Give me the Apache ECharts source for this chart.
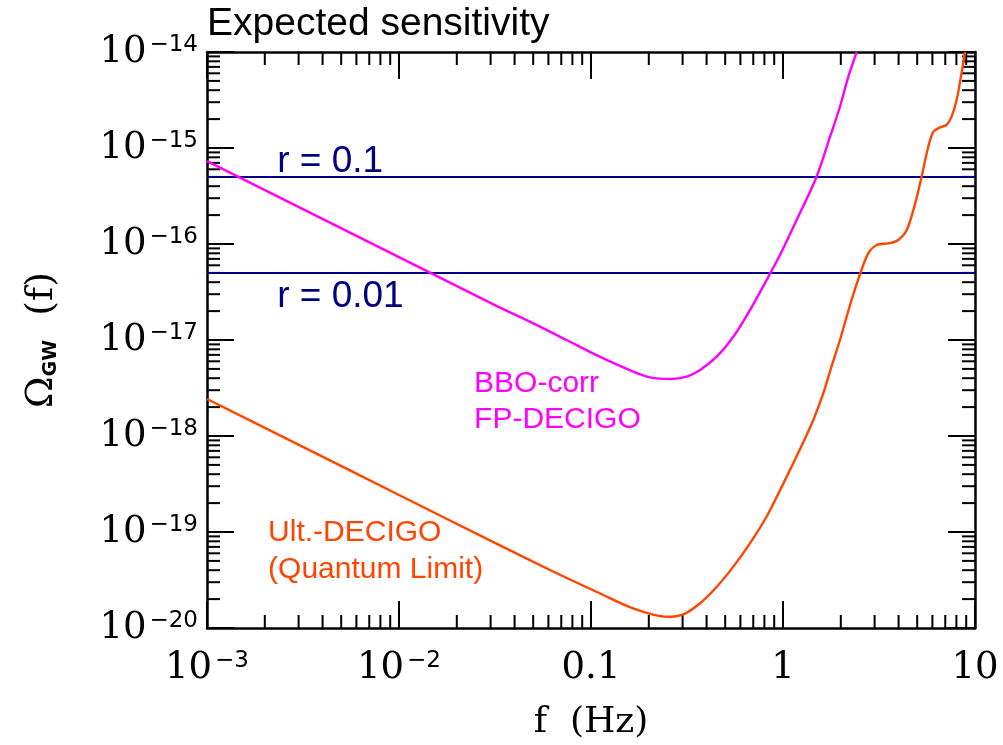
<!DOCTYPE html>
<html lang="en">
<head>
<meta charset="UTF-8">
<title>Expected sensitivity</title>
<script src="https://cdn.jsdelivr.net/npm/echarts@6/dist/echarts.min.js"></script>
<style>html, body { margin: 0; padding: 0; background: #fff; }</style>
</head>
<body>
<div id="main" style="width: 1003px; height: 745px;"></div>
<script>
// tick labels, base and exponent, one per decade
var xTickLabels = [['10', '−3'], ['10', '−2'], ['0.1', ''], ['1', ''], ['10', '']];
var yTickLabels = [['10', '−20'], ['10', '−19'], ['10', '−18'], ['10', '−17'], ['10', '−16'], ['10', '−15'], ['10', '−14']];

// BBO-corr / FP-DECIGO
var bboFreq = [0.001, 0.00316, 0.01, 0.0316, 0.0501, 0.0746, 0.111, 0.166, 0.203, 0.258, 0.315, 0.37, 0.452,
    0.551, 0.673, 0.822, 0.964, 1.178, 1.496, 1.758, 1.98, 2.19, 2.42];
var bboOmega = [7.3e-16, 2.31e-16, 7.3e-17, 2.31e-17, 1.49e-17, 1.0e-17, 6.7e-18, 4.68e-18, 4.08e-18, 3.93e-18, 4.15e-18, 4.86e-18, 6.7e-18,
    1.08e-17, 2.05e-17, 4.22e-17, 7.67e-17, 1.78e-16, 5.02e-16, 1.31e-15, 2.69e-15, 5.53e-15, 1.0e-14];

// Ult.-DECIGO (quantum limit)
var udFreq = [0.001, 0.00316, 0.01, 0.0316, 0.0631, 0.111, 0.166, 0.248, 0.303, 0.37, 0.452, 0.551, 0.673, 0.822,
    1.005, 1.227, 1.439, 1.622, 1.8, 1.98, 2.275, 2.564, 2.78, 3.08, 3.61, 3.98, 4.41, 4.88, 5.27, 5.71, 6.07, 6.58,
    7.11, 7.55, 8.02, 8.51, 8.87];
var udOmega = [2.43e-18, 7.7e-19, 2.43e-19, 7.7e-20, 3.9e-20, 2.3e-20, 1.6e-20, 1.31e-20, 1.39e-20, 1.81e-20, 2.69e-20, 4.36e-20, 7.62e-20, 1.45e-19,
    3.21e-19, 7.33e-19, 1.47e-18, 2.79e-18, 5.5e-18, 1.0e-17, 2.61e-17, 5.36e-17, 8.0e-17, 9.77e-17, 1.02e-16, 1.10e-16, 1.40e-16, 2.65e-16, 5.02e-16, 1.03e-15, 1.48e-15, 1.64e-15,
    1.74e-15, 2.12e-15, 3.16e-15, 6.0e-15, 1.0e-14];

// tensor-to-scalar ratio levels
var rNames = ['r = 0.1', 'r = 0.01'];
var rLevels = [5e-16, 5e-17];

// text notes anchored at (f, omega)
var noteText = ['r = 0.1', 'r = 0.01', 'BBO-corr', 'FP-DECIGO', 'Ult.-DECIGO', '(Quantum Limit)'];
var noteFreq = [0.00232, 0.00232, 0.0246, 0.0246, 0.00208, 0.00208];
var noteOmega = [7.15e-16, 2.8e-17, 3.48e-18, 1.47e-18, 9.77e-20, 4.02e-20];
var noteColor = ['#000080', '#000080', '#ff00ff', '#ff00ff', '#ff4500', '#ff4500'];
var noteSize = [37, 37, 30, 30, 30, 30];

var xMin = 1e-3, xMax = 10, yMin = 1e-20, yMax = 1e-14;

function tickText(labels, first) {
    return function (v) {
        var l = labels[Math.round(Math.log10(v)) - first];
        if (!l) return '';
        return l[1] ? '{b|' + l[0] + '}{s|' + l[1] + '}' : '{b|' + l[0] + '}';
    };
}

var tickRich = {
    b: { fontFamily: 'DejaVu Serif', fontSize: 37, color: '#000' },
    s: { fontFamily: 'DejaVu Sans', fontSize: 23, color: '#000', verticalAlign: 'top', padding: [0, 0, 0, 3] }
};

// minor ticks 2..9 in each decade
var xMinor = [], yMinor = [];
for (var e = -3; e < 1; e++) for (var m = 2; m < 10; m++) xMinor.push([m * Math.pow(10, e), yMin]);
for (var e = -20; e < -14; e++) for (var m = 2; m < 10; m++) yMinor.push([xMin, m * Math.pow(10, e)]);

function tickLine(x1, y1, x2, y2) {
    return { type: 'line', shape: { x1: x1, y1: y1, x2: x2, y2: y2 }, style: { stroke: '#000', lineWidth: 2 } };
}

function axisBase(pos, showLabel, labels, first) {
    return {
        type: 'log', logBase: 10, position: pos,
        axisLine: { lineStyle: { color: '#000', width: 2.5 } },
        axisTick: { inside: true, length: 27, lineStyle: { color: '#000', width: 2 } },
        splitLine: { show: false },
        axisLabel: showLabel ? { formatter: tickText(labels, first), rich: tickRich } : { show: false }
    };
}

var xBottom = axisBase('bottom', true, xTickLabels, -3);
xBottom.min = xMin; xBottom.max = xMax;
xBottom.axisLabel.margin = 22;
xBottom.name = 'f  (Hz)';
xBottom.nameLocation = 'middle';
xBottom.nameGap = 77;
xBottom.nameTextStyle = { fontFamily: 'DejaVu Serif', fontSize: 36, color: '#000' };
var xTop = axisBase('top', false);
xTop.min = xMin; xTop.max = xMax;

var yLeft = axisBase('left', true, yTickLabels, -20);
yLeft.min = yMin; yLeft.max = yMax;
yLeft.axisLabel.margin = 9;
yLeft.name = '{o|Ω}{g|GW}{o|  (f)}';
yLeft.nameLocation = 'middle';
yLeft.nameRotate = 90;
yLeft.nameGap = 146;
yLeft.nameTextStyle = {
    rich: {
        o: { fontFamily: 'DejaVu Serif', fontSize: 38, color: '#000' },
        g: { fontFamily: 'DejaVu Sans', fontSize: 19, fontWeight: 'bold', color: '#000', verticalAlign: 'bottom' }
    }
};
var yRight = axisBase('right', false);
yRight.min = yMin; yRight.max = yMax;

var series = [];
rLevels.forEach(function (v, i) {
    series.push({
        name: rNames[i], type: 'line', xAxisIndex: 0, yAxisIndex: 0,
        data: [[xMin, v], [xMax, v]], symbol: 'none',
        lineStyle: { color: '#000080', width: 2 }
    });
});
series.push({
    name: 'BBO-corr FP-DECIGO', type: 'line', xAxisIndex: 0, yAxisIndex: 0,
    data: bboFreq.map(function (f, i) { return [f, bboOmega[i]]; }),
    symbol: 'none', smooth: 0.3, lineStyle: { color: '#ff00ff', width: 2.4 }
});
series.push({
    name: 'Ult.-DECIGO', type: 'line', xAxisIndex: 0, yAxisIndex: 0,
    data: udFreq.map(function (f, i) { return [f, udOmega[i]]; }),
    symbol: 'none', smooth: 0.3, lineStyle: { color: '#ff4500', width: 2.4 }
});
series.push({
    type: 'scatter', xAxisIndex: 0, yAxisIndex: 0, symbolSize: 0, silent: true,
    itemStyle: { opacity: 1 },
    data: noteText.map(function (t, i) {
        return {
            value: [noteFreq[i], noteOmega[i]],
            label: {
                show: true, position: 'right', distance: 0, formatter: t, opacity: 1,
                fontFamily: 'Liberation Sans', fontSize: noteSize[i], color: noteColor[i]
            }
        };
    })
});
series.push({
    type: 'custom', xAxisIndex: 0, yAxisIndex: 0, clip: false, silent: true,
    data: xMinor,
    renderItem: function (params, api) {
        var b = api.coord([api.value(0), yMin]);
        var t = api.coord([api.value(0), yMax]);
        return { type: 'group', children: [tickLine(b[0], b[1], b[0], b[1] - 13), tickLine(t[0], t[1], t[0], t[1] + 13)] };
    }
});
series.push({
    type: 'custom', xAxisIndex: 0, yAxisIndex: 0, clip: false, silent: true,
    data: yMinor,
    renderItem: function (params, api) {
        var l = api.coord([xMin, api.value(1)]);
        var r = api.coord([xMax, api.value(1)]);
        return { type: 'group', children: [tickLine(l[0], l[1], l[0] + 13, l[1]), tickLine(r[0], r[1], r[0] - 13, r[1])] };
    }
});

var myChart = echarts.init(document.getElementById('main'));
myChart.setOption({
    animation: false,
    backgroundColor: '#fff',
    title: {
        text: 'Expected sensitivity', left: 207, top: 5, padding: 0,
        textStyle: { fontFamily: 'Liberation Sans', fontSize: 39, fontWeight: 'normal', color: '#000' }
    },
    grid: { left: 207, right: 28, top: 52, bottom: 117, containLabel: false, outerBoundsMode: 'none' },
    xAxis: [xBottom, xTop],
    yAxis: [yLeft, yRight],
    series: series
});
</script>
</body>
</html>
